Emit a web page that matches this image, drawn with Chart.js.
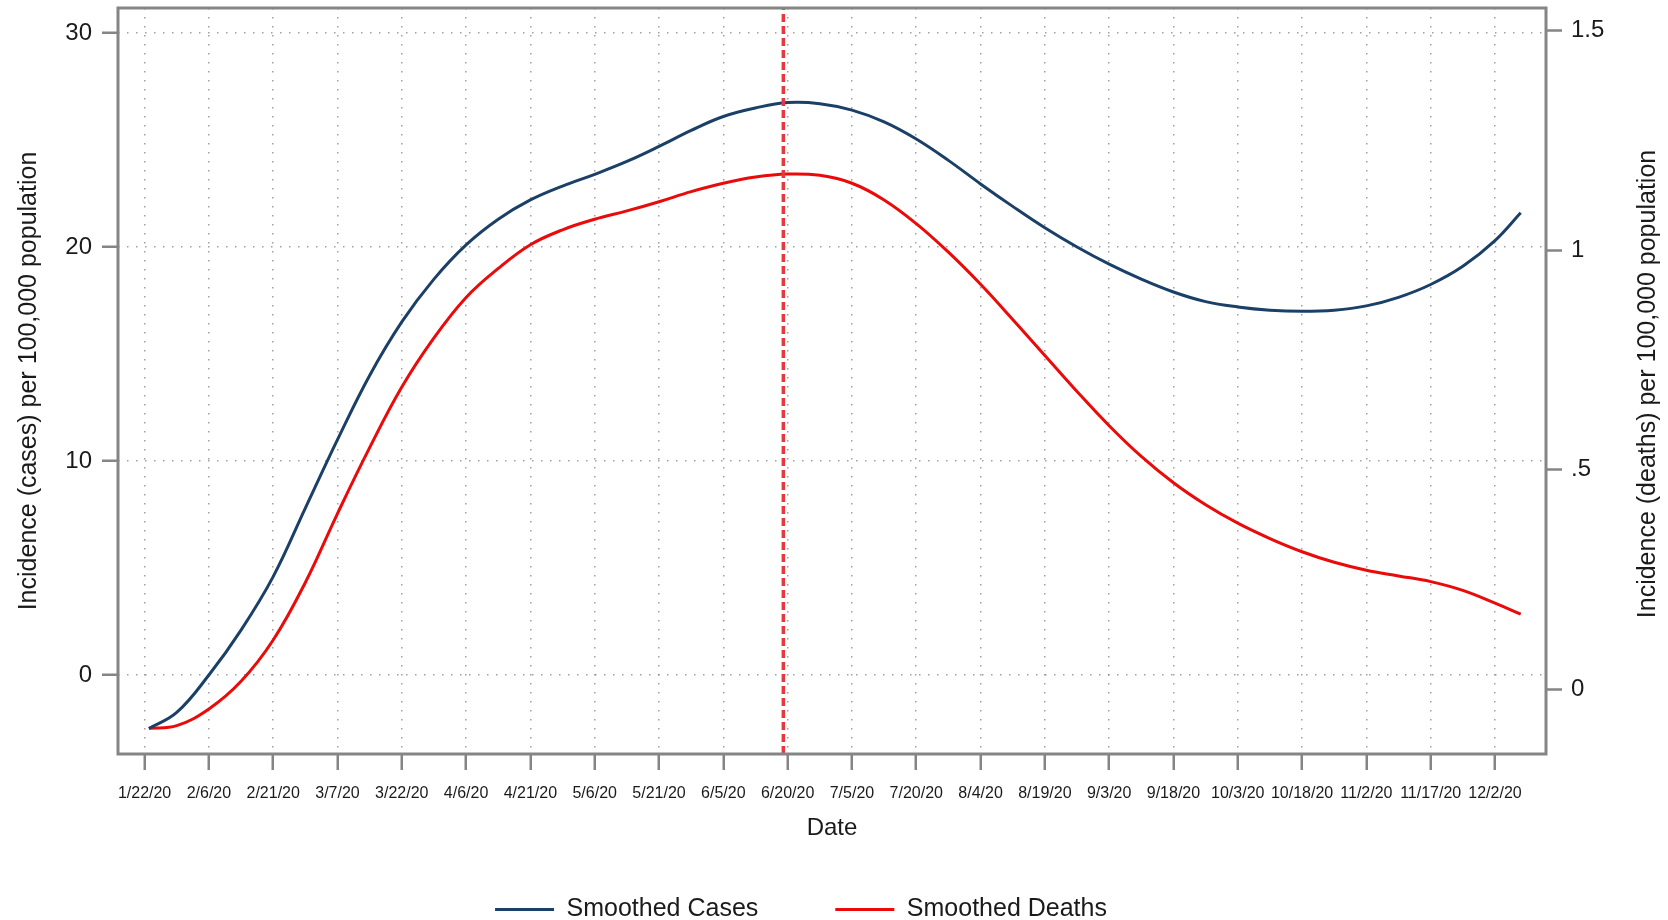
<!DOCTYPE html>
<html>
<head>
<meta charset="utf-8">
<script src="https://cdn.jsdelivr.net/npm/chart.js"></script>
<style>
  body { margin: 0; background: #fff; }
  canvas { display: block; }
</style>
</head>
<body>
<canvas id="myChart" width="1668" height="920"></canvas>
<script>
// days since 1/22/20
const days = [1, 7.5, 15, 22.5, 30, 37.5, 45, 52.5, 60, 67.5, 75, 82.5, 90, 97.5, 105, 112.5,
  120, 127.5, 135, 142.5, 150, 157.5, 165, 172.5, 180, 187.5, 195, 202.5, 210, 217.5, 225,
  232.5, 240, 247.5, 255, 262.5, 270, 277.5, 285, 292.5, 300, 307.5, 315, 321];

const casesValues = [-2.5, -1.75, 0.0, 2.1, 4.6, 7.8, 11.0, 14.0, 16.5, 18.5, 20.1, 21.3, 22.2,
  22.85, 23.4, 24.0, 24.7, 25.45, 26.1, 26.5, 26.75, 26.7, 26.4, 25.85, 25.05, 24.05, 22.95,
  21.9, 20.9, 20.0, 19.2, 18.5, 17.9, 17.45, 17.2, 17.05, 17.0, 17.05, 17.25, 17.65, 18.25,
  19.1, 20.3, 21.6];

const deathsValues = [-0.089, -0.083, -0.045, 0.018, 0.112, 0.243, 0.400, 0.550, 0.688, 0.800,
  0.892, 0.958, 1.012, 1.046, 1.070, 1.089, 1.110, 1.133, 1.152, 1.166, 1.173, 1.170, 1.152,
  1.114, 1.060, 0.995, 0.922, 0.842, 0.760, 0.678, 0.600, 0.530, 0.470, 0.420, 0.378, 0.343,
  0.313, 0.289, 0.271, 0.258, 0.245, 0.225, 0.196, 0.171];

const dateLabels = ["1/22/20", "2/6/20", "2/21/20", "3/7/20", "3/22/20", "4/6/20", "4/21/20",
  "5/6/20", "5/21/20", "6/5/20", "6/20/20", "7/5/20", "7/20/20", "8/4/20", "8/19/20", "9/3/20",
  "9/18/20", "10/3/20", "10/18/20", "11/2/20", "11/17/20", "12/2/20"];
const dateTickDays = dateLabels.map((d, i) => i * 15);

const leftTicks = [0, 10, 20, 30];
const rightTicks = [0, 0.5, 1, 1.5];
const rightTickLabels = ["0", ".5", "1", "1.5"];

const peakDay = 149; // dashed line, 6/19/20

const xMin = -6.2, xMax = 326.9;
const leftMin = -3.69, leftMax = 31.17;
const rightMin = -0.1475, rightMax = 1.551;

const rightTitle = "Incidence (deaths) per 100,000 population";
const fontFamily = '"Liberation Sans", Arial, Helvetica, sans-serif';
const textColor = "#1a1a1a";
const frameColor = "#858585";
const gridColor = "rgba(130,130,130,0.75)";

Chart.defaults.font.family = fontFamily;
Chart.defaults.color = textColor;

const framePlugin = {
  id: "frame",
  afterDraw(chart) {
    const { ctx, chartArea: a } = chart;
    ctx.save();
    ctx.strokeStyle = frameColor;
    ctx.lineWidth = 3;
    ctx.strokeRect(a.left, a.top, a.right - a.left, a.bottom - a.top);
    ctx.translate(chart.width - 20, (a.top + a.bottom) / 2 + 3);
    ctx.rotate(-Math.PI / 2);
    ctx.font = "25px " + fontFamily;
    ctx.fillStyle = textColor;
    ctx.textAlign = "center";
    ctx.textBaseline = "middle";
    ctx.fillText(rightTitle, 0, 0);
    ctx.restore();
  }
};

function noPad(s) {
  s.paddingTop = 0;
  s.paddingBottom = 0;
  s.paddingLeft = 0;
  s.paddingRight = 0;
}

const config = {
  type: "line",
  data: {
    datasets: [
      {
        label: "peak",
        data: [{ x: peakDay, y: leftMin }, { x: peakDay, y: leftMax }],
        borderColor: "#e8383d",
        borderWidth: 3.5,
        borderDash: [8, 4],
        pointRadius: 0,
        yAxisID: "y"
      },
      {
        label: "Smoothed Cases",
        data: days.map((d, i) => ({ x: d, y: casesValues[i] })),
        borderColor: "#1b4068",
        backgroundColor: "#1b4068",
        borderWidth: 3,
        pointRadius: 0,
        tension: 0.4,
        yAxisID: "y"
      },
      {
        label: "Smoothed Deaths",
        data: days.map((d, i) => ({ x: d, y: deathsValues[i] })),
        borderColor: "#ea0a0a",
        backgroundColor: "#ea0a0a",
        borderWidth: 3,
        pointRadius: 0,
        tension: 0.4,
        yAxisID: "y2"
      }
    ]
  },
  options: {
    responsive: false,
    animation: false,
    devicePixelRatio: 1,
    layout: { padding: { top: 8, left: -33, right: 33, bottom: -12 } },
    plugins: {
      tooltip: { enabled: false },
      legend: {
        position: "bottom",
        labels: {
          usePointStyle: true,
          pointStyle: "line",
          pointStyleWidth: 59,
          padding: 77,
          color: textColor,
          font: { size: 25 },
          filter: (item) => item.datasetIndex !== 0
        }
      }
    },
    scales: {
      x: {
        type: "linear",
        min: xMin,
        max: xMax,
        afterBuildTicks: (s) => { s.ticks = dateTickDays.map((v) => ({ value: v })); },
        afterFit: (s) => { noPad(s); s.height = 66; },
        ticks: {
          autoSkip: false,
          maxRotation: 0,
          padding: 14,
          font: { size: 16 },
          color: textColor,
          callback: (v, i) => dateLabels[i]
        },
        grid: {
          color: gridColor,
          lineWidth: 1.5,
          tickColor: frameColor,
          tickWidth: 2.5,
          tickLength: 16
        },
        border: { display: false, dash: [1.5, 7.5] },
        title: {
          display: true,
          text: "Date",
          color: textColor,
          font: { size: 24 },
          padding: { top: 0, bottom: -23 }
        }
      },
      y: {
        position: "left",
        min: leftMin,
        max: leftMax,
        afterBuildTicks: (s) => { s.ticks = leftTicks.map((v) => ({ value: v })); },
        afterFit: (s) => { noPad(s); s.width = 151; },
        ticks: { padding: 10, font: { size: 24 }, color: textColor },
        grid: {
          color: gridColor,
          lineWidth: 1.5,
          tickColor: frameColor,
          tickWidth: 2.5,
          tickLength: 16
        },
        border: { display: false, dash: [1.5, 7.5] },
        title: {
          display: true,
          text: "Incidence (cases) per 100,000 population",
          color: textColor,
          font: { size: 25 },
          padding: { top: 47, bottom: 0 }
        }
      },
      y2: {
        position: "right",
        min: rightMin,
        max: rightMax,
        afterBuildTicks: (s) => { s.ticks = rightTicks.map((v) => ({ value: v })); },
        afterFit: (s) => { noPad(s); s.width = 89; },
        ticks: {
          padding: 9,
          font: { size: 24 },
          color: textColor,
          callback: (v, i) => rightTickLabels[i]
        },
        grid: {
          drawOnChartArea: false,
          tickColor: frameColor,
          tickWidth: 2.5,
          tickLength: 16
        },
        border: { display: false }
      }
    }
  },
  plugins: [framePlugin]
};

new Chart(document.getElementById("myChart"), config);
</script>
</body>
</html>
